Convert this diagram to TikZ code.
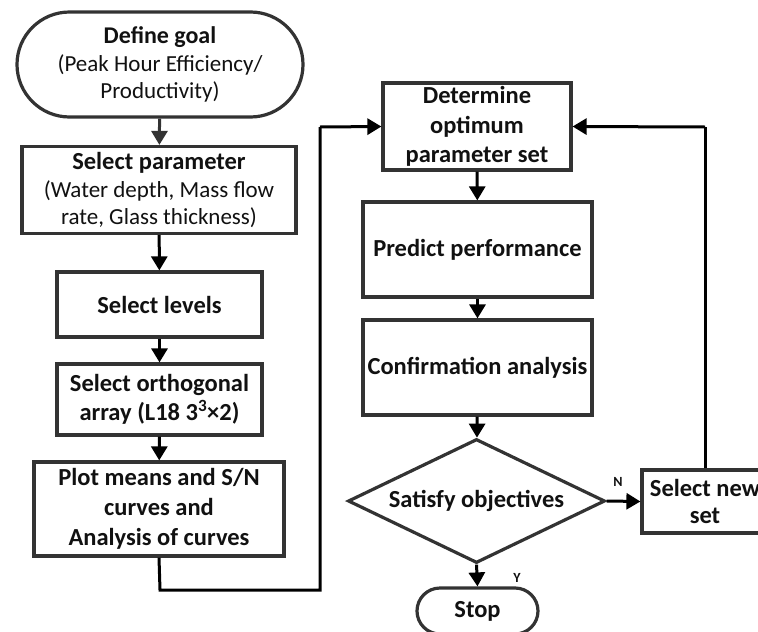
\documentclass[tikz,border=0pt]{standalone}
\usepackage{fontspec}
\setmainfont{Carlito}
\usetikzlibrary{shapes.misc,shapes.geometric,arrows.meta}
\definecolor{boxline}{HTML}{333333}
\definecolor{txt}{HTML}{111111}
\newcommand{\bsz}{\fontsize{24.5}{28}\selectfont\bfseries}
\tikzset{
  box/.style={draw=boxline,line width=3.2pt,fill=white,align=center,text=txt,inner sep=2pt,
    font=\fontsize{23}{27.5}\selectfont},
  bbox/.style={box,font=\bsz},
  term/.style={box,rounded rectangle},
  dec/.style={bbox,diamond,aspect=2.07},
  conn/.style={draw=black,line width=3pt,-{Triangle[length=14pt,width=16pt]}},
  plainconn/.style={draw=black,line width=3pt},
  lbl/.style={text=txt,font=\fontsize{14}{16}\selectfont\bfseries},
}
\begin{document}
\begin{tikzpicture}[x=1pt,y=-1pt]
\useasboundingbox (0,0) rectangle (758,632);
\clip (0,0) rectangle (758,632);
\node[term,minimum width=290pt,minimum height=105pt] (goal) at (160,64.5)
  {{\fontsize{24}{27.5}\selectfont\bfseries Define goal}\\(Peak Hour Efficiency/\\Productivity)};
\node[box,minimum width=274pt,minimum height=87pt] (param) at (159,190)
  {{\bsz Select parameter}\\(Water depth, Mass flow\\rate, Glass thickness)};
\node[bbox,minimum width=205pt,minimum height=65pt] (levels) at (159.5,304.5)
  {Select levels};
\node[bbox,minimum width=205pt,minimum height=71pt,font=\fontsize{24.5}{29}\selectfont\bfseries] (ortho) at (159.5,399.5)
  {Select orthogonal\\array (L18 3$^{\mathbf{3}}$×2)};
\node[bbox,minimum width=250pt,minimum height=94pt,font=\fontsize{24.5}{30}\selectfont\bfseries] (plot) at (159,509)
  {Plot means and S/N\\curves and\\Analysis of curves};
\node[bbox,minimum width=188pt,minimum height=87pt,inner sep=0pt,font=\fontsize{24.5}{29.5}\selectfont\bfseries] (det) at (477,126.5)
  {Determine\\optimum\\parameter set};
\node[bbox,minimum width=229pt,minimum height=95pt] (pred) at (477.5,249.5)
  {Predict performance};
\node[bbox,minimum width=229pt,minimum height=95pt] (conf) at (477.5,367.5)
  {Confirmation analysis};
\node[dec,minimum width=257pt,minimum height=124pt,inner sep=0pt] (sat) at (476.5,501)
  {Satisfy objectives};
\node[bbox,minimum width=126pt,minimum height=63pt,font=\fontsize{24.5}{27}\selectfont\bfseries] (new) at (705,501.5)
  {Select new\\set};
\node[term,minimum width=125pt,minimum height=46pt,font=\bsz] (stop) at (477.5,611)
  {Stop};
\coordinate (lb) at (160,590);
\coordinate (lr) at (320,590);
\coordinate (lt) at (320,127);
\coordinate (rt) at (705,127);
\draw[conn,draw=boxline,-{Triangle[length=14pt,width=16pt,fill=boxline]}] (goal) -- (param);
\draw[conn] (param) -- (levels);
\draw[conn] (levels) -- (ortho);
\draw[conn] (ortho) -- (plot);
\draw[plainconn] (plot.south) -- (lb) -- (lr) -- (lt);
\draw[conn] (lt) -- (det.west);
\draw[conn] (det) -- (pred);
\draw[conn] (pred) -- (conf);
\draw[conn] (conf) -- (sat);
\draw[conn] (sat.east) -- (new.west);
\draw[plainconn] (new.north) -- (rt);
\draw[conn] (rt) -- (det.east);
\draw[conn] (sat.south) -- (stop.north);
\node[lbl] (nl) at (618,482) {N};
\node[lbl] (yl) at (517,578) {Y};
\end{tikzpicture}
\end{document}
